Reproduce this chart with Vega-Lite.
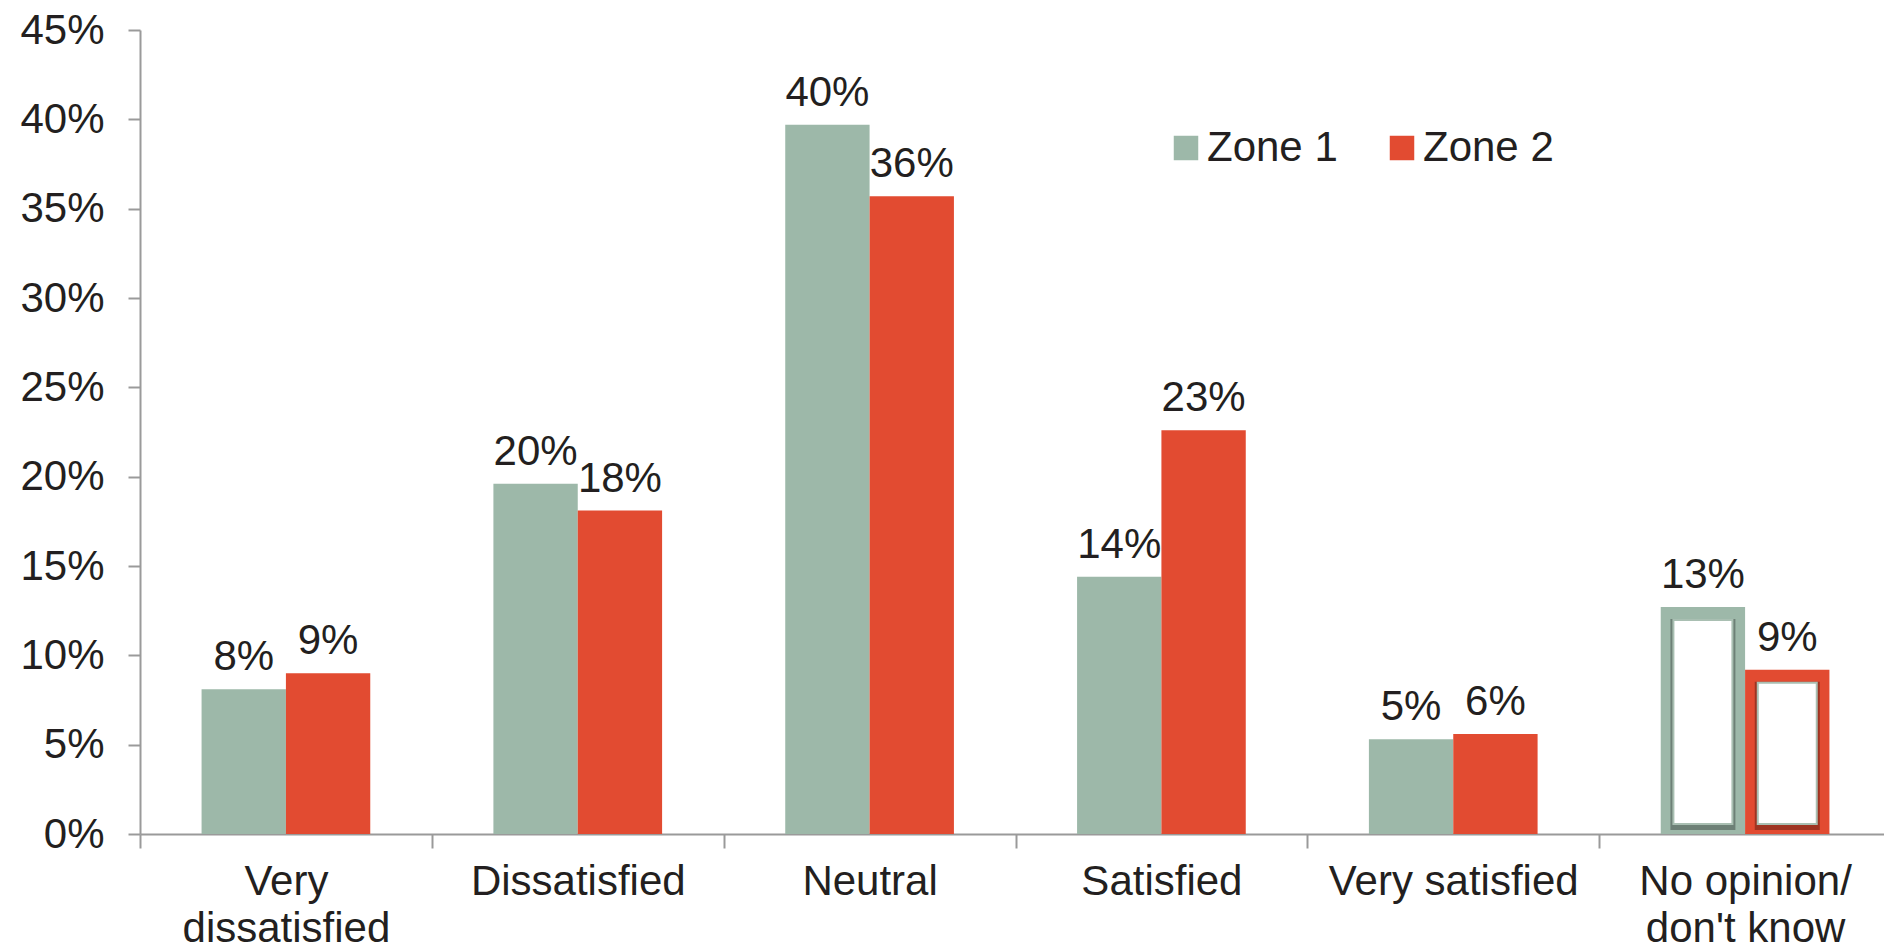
{
  "$schema": "https://vega.github.io/schema/vega-lite/v6.json",
  "width": 1744,
  "height": 804,
  "autosize": "none",
  "padding": {"left": 140, "top": 30, "right": 0, "bottom": 117},
  "background": "white",
  "config": {
    "view": {"stroke": null},
    "font": "Liberation Sans",
    "axis": {"labelFont": "Liberation Sans", "labelColor": "#231f20", "domainColor": "#9a9a9a", "tickColor": "#9a9a9a", "domainWidth": 2, "tickWidth": 2, "grid": false, "title": null},
    "legend": {"labelFont": "Liberation Sans"}
  },
  "data": {
    "values": [
      {"category": "Very dissatisfied", "zone": "Zone 1", "value": 0.081},
      {"category": "Very dissatisfied", "zone": "Zone 2", "value": 0.090},
      {"category": "Dissatisfied", "zone": "Zone 1", "value": 0.196},
      {"category": "Dissatisfied", "zone": "Zone 2", "value": 0.181},
      {"category": "Neutral", "zone": "Zone 1", "value": 0.397},
      {"category": "Neutral", "zone": "Zone 2", "value": 0.357},
      {"category": "Satisfied", "zone": "Zone 1", "value": 0.144},
      {"category": "Satisfied", "zone": "Zone 2", "value": 0.226},
      {"category": "Very satisfied", "zone": "Zone 1", "value": 0.053},
      {"category": "Very satisfied", "zone": "Zone 2", "value": 0.056},
      {"category": "No opinion/ don't know", "zone": "Zone 1", "value": 0.127},
      {"category": "No opinion/ don't know", "zone": "Zone 2", "value": 0.092}
    ]
  },
  "encoding": {
    "x": {
      "field": "category", "type": "nominal", "sort": null,
      "scale": {"paddingInner": 0, "paddingOuter": 0, "range": [0, 1751]},
      "axis": {
        "labelAngle": 0, "tickBand": "extent", "tickSize": 14, "labelPadding": 13,
        "labelFontSize": 42, "labelLineHeight": 47, "labelLimit": 0,
        "labelExpr": "datum.value == 'Very dissatisfied' ? ['Very', 'dissatisfied'] : datum.value == \"No opinion/ don't know\" ? ['No opinion/', \"don't know\"] : datum.value"
      }
    },
    "xOffset": {"field": "zone", "type": "nominal", "sort": null, "scale": {"paddingInner": 0, "paddingOuter": 0.73}},
    "y": {
      "field": "value", "type": "quantitative",
      "scale": {"domain": [0, 0.45], "nice": false},
      "axis": {"values": [0, 0.05, 0.1, 0.15, 0.2, 0.25, 0.3, 0.35, 0.4, 0.45], "format": ".0%", "tickSize": 12, "labelPadding": 24, "labelFontSize": 42}
    }
  },
  "layer": [
    {
      "mark": {"type": "bar"},
      "encoding": {
        "color": {
          "field": "zone", "type": "nominal",
          "scale": {"domain": ["Zone 1", "Zone 2"], "range": ["#9db8a9", "#e24b31"]},
          "legend": {"orient": "none", "legendX": 1025, "legendY": 97, "direction": "horizontal", "title": null, "symbolType": "square", "symbolSize": 600, "symbolStrokeWidth": 0, "labelFontSize": 42, "labelColor": "#231f20", "columnPadding": 43, "labelOffset": 0, "padding": 0}
        }
      }
    },
    {
      "transform": [{"filter": {"field": "category", "equal": "No opinion/ don't know"}}],
      "mark": {"type": "bar", "width": 65, "yOffset": 12, "y2Offset": -4, "color": "black", "opacity": 0.3},
      "encoding": {"y2": {"datum": 0}}
    },
    {
      "transform": [{"filter": {"field": "category", "equal": "No opinion/ don't know"}}],
      "mark": {"type": "bar", "width": 59, "yOffset": 13, "y2Offset": -10, "color": "white", "stroke": "#a9bfb2", "strokeWidth": 2},
      "encoding": {"y2": {"datum": 0}}
    },
    {
      "mark": {"type": "text", "dy": -19, "baseline": "alphabetic", "fontSize": 42, "color": "#231f20"},
      "encoding": {"text": {"field": "value", "type": "quantitative", "format": ".0%"}}
    }
  ]
}
